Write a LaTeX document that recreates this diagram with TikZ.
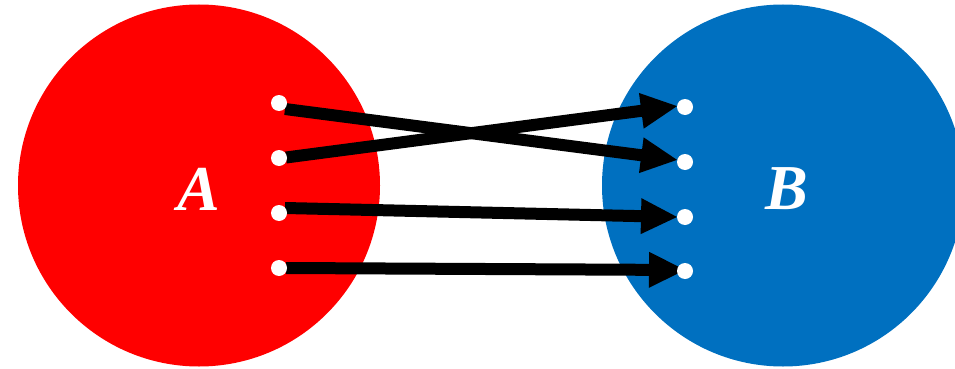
\documentclass[tikz,border=0pt]{standalone}
\usepackage{fontspec}
\setmainfont{Liberation Serif}
\usetikzlibrary{arrows.meta}
\definecolor{setred}{HTML}{FF0000}
\definecolor{setblue}{HTML}{0070C0}
\tikzset{
  setcircle/.style={circle, minimum size=362pt, inner sep=0pt},
  dotnode/.style={circle, fill=white, minimum size=16pt, inner sep=0pt},
  setlabel/.style={text=white, font=\fontsize{64}{64}\selectfont\bfseries\itshape, inner sep=0pt},
  maparrow/.style={line width=12pt, -{Triangle[length=37pt,width=33pt]}}
}
\begin{document}
\begin{tikzpicture}[x=1pt,y=-1pt]
\useasboundingbox (0,0) rectangle (955,369);
\node[setcircle, fill=setred] (A) at (199,185.5) {};
\node[setcircle, fill=setblue] (B) at (783,185.5) {};
\node[setlabel] (la) at (199,189) {A};
\node[setlabel] (lb) at (787,189) {B};
% arrow end points
\coordinate (s1) at (285,109);
\coordinate (s2) at (286,157.5);
\coordinate (s3) at (285,208);
\coordinate (s4) at (286,268);
\coordinate (t1) at (678,160);
\coordinate (t2) at (678,106);
\coordinate (t3) at (678,217);
\coordinate (t4) at (686,270);
\draw[maparrow] (s1) -- (t1);
\draw[maparrow] (s2) -- (t2);
\draw[maparrow] (s3) -- (t3);
\draw[maparrow] (s4) -- (t4);
% dots
\node[dotnode] (l1) at (279,103) {};
\node[dotnode] (l2) at (279,158) {};
\node[dotnode] (l3) at (279,213) {};
\node[dotnode] (l4) at (279,268) {};
\node[dotnode] (r1) at (685,107) {};
\node[dotnode] (r2) at (685,162) {};
\node[dotnode] (r3) at (685,217) {};
\node[dotnode] (r4) at (685,271) {};
\end{tikzpicture}
\end{document}
